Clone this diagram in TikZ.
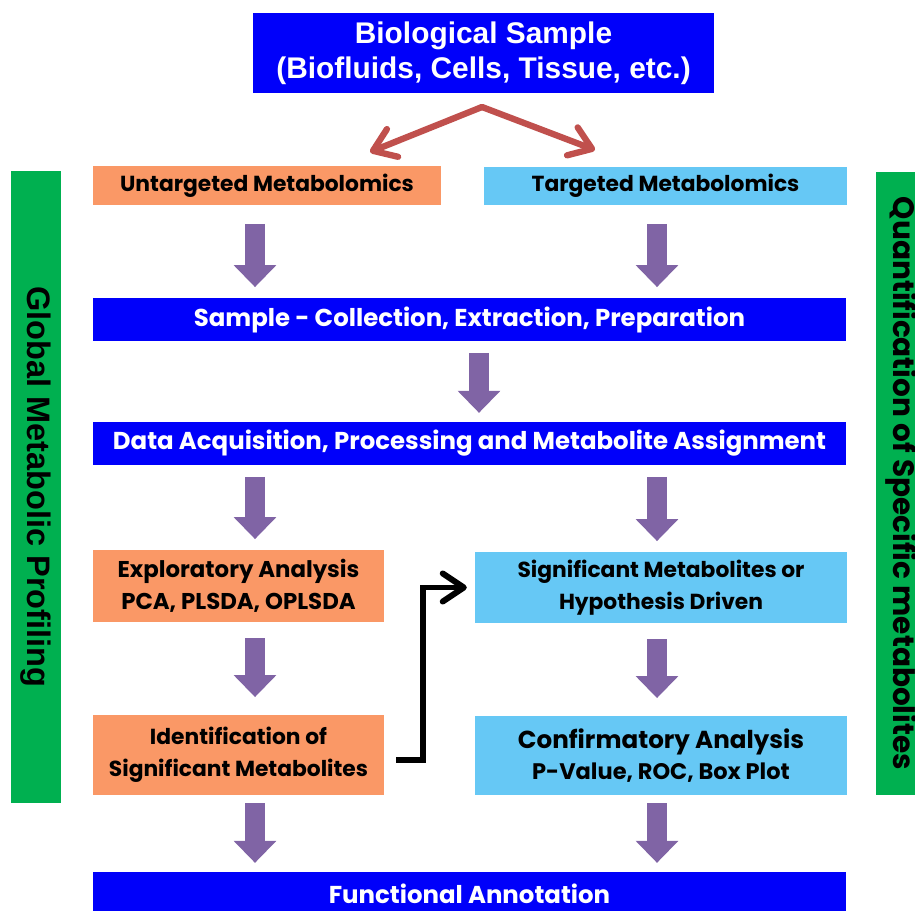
\documentclass[tikz,border=0pt]{standalone}
\usepackage{fontspec}
\setsansfont{Poppins}[BoldFont={Poppins Bold}]
\newfontfamily\arialfont{Liberation Sans}[BoldFont={Liberation Sans Bold}]
\usetikzlibrary{arrows.meta}

\definecolor{barblue}{RGB}{0,0,250}
\definecolor{untgorange}{RGB}{250,152,102}
\definecolor{targblue}{RGB}{102,200,245}
\definecolor{sidegreen}{RGB}{0,176,80}
\definecolor{flowpurple}{RGB}{128,100,165}
\definecolor{forkred}{RGB}{192,80,77}

\begin{document}
\begin{tikzpicture}[x=0.02cm,y=-0.02cm,
    box/.style={inner sep=0pt, align=center, font=\sffamily\bfseries\fontsize{12.4}{18}\selectfont},
    bluebar/.style={box, fill=barblue, text=white, minimum width=15.06cm, minimum height=0.86cm,
        font=\sffamily\bfseries\fontsize{13.9}{15}\selectfont},
    untgbox/.style={box, fill=untgorange},
    targbox/.style={box, fill=targblue},
    sidebar/.style={inner sep=0pt, fill=sidegreen, rotate=-90, minimum height=1.0cm},
    fatarrow/.style={draw=flowpurple, line width=11.3pt, -{Triangle[width=23.5pt,length=12.5pt]},
        shorten <=6.5pt, shorten >=6pt},
    forkarrow/.style={draw=forkred, line width=3.6pt, line cap=round, -{Straight Barb[length=12pt,width=17pt,round]}},
    linkarrow/.style={draw=black, line width=3.4pt, -{Straight Barb[length=12pt,width=16pt,round]}}
]
    \useasboundingbox (0,0) rectangle (915,911);

    % seitenbalken
    \node[sidebar, minimum width=12.64cm] (global) at (36,487)
        {\arialfont\bfseries\fontsize{18.5}{20}\selectfont Global Metabolic Profiling};
    \node[sidebar, minimum width=12.46cm] (quant) at (901,483.5)
        {\sffamily\bfseries\fontsize{16.8}{18}\selectfont Quantification of Specific metabolites};

    % kaesten
    \node[box, fill=barblue, text=white, minimum width=9.22cm, minimum height=1.6cm,
        font=\arialfont\bfseries\fontsize{17}{20}\selectfont] (sample) at (483.5,53)
        {Biological Sample\\(Biofluids, Cells, Tissue, etc.)};
    \node[untgbox, minimum width=6.96cm, minimum height=0.78cm] (untg) at (267,185.5) {Untargeted Metabolomics};
    \node[targbox, minimum width=7.26cm, minimum height=0.76cm] (targ) at (665.5,186) {Targeted Metabolomics};
    \node[bluebar] (prep) at (469.5,319.5) {Sample - Collection, Extraction, Preparation};
    \node[bluebar] (acq) at (469.5,443.5) {Data Acquisition, Processing and Metabolite Assignment};
    \node[untgbox, minimum width=5.82cm, minimum height=1.44cm, font=\sffamily\bfseries\fontsize{13}{18}\selectfont] (explo) at (238.5,586)
        {Exploratory Analysis\\PCA, PLSDA, OPLSDA};
    \node[targbox, minimum width=7.44cm, minimum height=1.42cm] (signif) at (661,587.5)
        {Significant Metabolites or\\Hypothesis Driven};
    \node[untgbox, minimum width=5.82cm, minimum height=1.6cm] (ident) at (238.5,755)
        {Identification of\\Significant Metabolites};
    \node[targbox, minimum width=7.44cm, minimum height=1.58cm, font=\sffamily\bfseries\fontsize{12.8}{18}\selectfont] (confirm) at (661,755.5)
        {{\fontsize{14}{18}\selectfont Confirmatory Analysis}\\P-Value, ROC, Box Plot};
    \node[bluebar, minimum height=0.88cm] (func) at (469.5,894) {Functional Annotation};

    % spalten
    \coordinate (colL) at (255,0);
    \coordinate (colR) at (657,0);
    \coordinate (colM) at (479,0);

    % verzweigung
    \coordinate (fork) at (482,107);
    \coordinate (forkL) at (370,152);
    \coordinate (forkR) at (595,150);
    \draw[forkarrow] (fork) -- (forkL);
    \draw[forkarrow] (fork) -- (forkR);

    % dicke pfeile
    \draw[fatarrow, shorten <=10.5pt] (untg.south -| colL) -- (prep.north -| colL);
    \draw[fatarrow, shorten <=10.5pt] (targ.south -| colR) -- (prep.north -| colR);
    \draw[fatarrow, shorten >=5pt] (prep.south -| colM) -- (acq.north -| colM);
    \draw[fatarrow] (acq.south -| colL) -- (explo.north -| colL);
    \draw[fatarrow] (acq.south -| colR) -- (signif.north -| colR);
    \draw[fatarrow, shorten <=9pt, shorten >=10pt] (explo.south -| colL) -- (ident.north -| colL);
    \draw[fatarrow, shorten <=9pt, shorten >=10pt] (signif.south -| colR) -- (confirm.north -| colR);
    \draw[fatarrow, shorten <=4.5pt, shorten >=5pt] (ident.south -| colL) -- (func.north -| colL);
    \draw[fatarrow, shorten <=4.5pt, shorten >=5pt] (confirm.south -| colR) -- (func.north -| colR);

    % querverbindung
    \draw[linkarrow, shorten >=4.5pt] ([shift={(12,5)}]ident.east) -- ++(27,0) |- (signif.west);
\end{tikzpicture}
\end{document}
